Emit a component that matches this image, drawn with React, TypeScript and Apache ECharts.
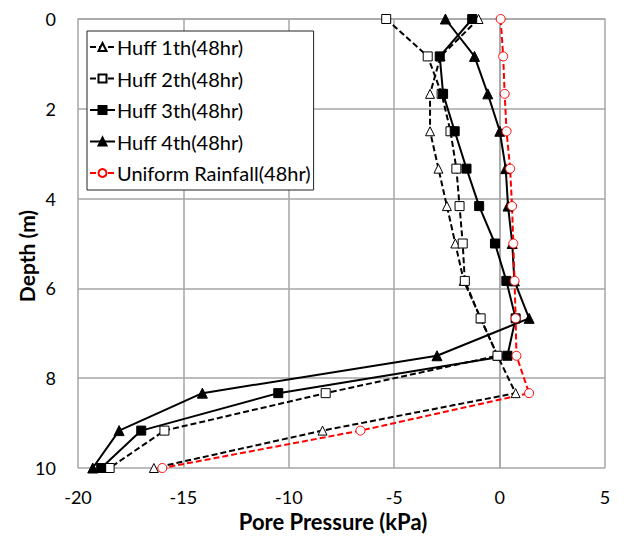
import React, { useEffect, useRef } from "react";
import * as echarts from "echarts";

const depths = [0, 0.833, 1.667, 2.5, 3.333, 4.167, 5, 5.833, 6.667, 7.5, 8.333, 9.167, 10];
const huff1 = [-1.0, -2.8, -3.3, -3.3, -2.9, -2.5, -2.1, -1.7, -0.9, -0.1, 0.76, -8.4, -16.4];
const huff2 = [-5.38, -3.41, -2.75, -2.33, -2.05, -1.9, -1.75, -1.65, -0.9, -0.1, -8.25, -15.9, -18.5];
const huff3 = [-1.3, -2.84, -2.68, -2.13, -1.57, -0.97, -0.22, 0.32, 0.76, 0.37, -10.5, -17.0, -18.9];
const huff4 = [-2.57, -1.19, -0.56, 0.01, 0.29, 0.4, 0.6, 0.7, 1.4, -2.97, -14.1, -18.05, -19.3];
const uniform = [0.05, 0.17, 0.24, 0.33, 0.5, 0.59, 0.65, 0.71, 0.76, 0.8, 1.4, -6.6, -16.0];
const seriesNames = [
  "Huff 1th(48hr)",
  "Huff 2th(48hr)",
  "Huff 3th(48hr)",
  "Huff 4th(48hr)",
  "Uniform Rainfall(48hr)",
];
const xTitle = "Pore Pressure (kPa)";
const yTitle = "Depth (m)";
const xTicks = { min: -20, max: 5, interval: 5 };
const yTicks = { min: 0, max: 10, interval: 2 };

const FONT = "Lato, 'Open Sans', sans-serif";

function pairs(vals: number[]) {
  return vals.map((v, i) => [v, depths[i]]);
}

export default function App() {
  const ref = useRef<HTMLDivElement>(null);
  useEffect(() => {
    if (!ref.current) return;
    const chart = echarts.init(ref.current, undefined, { renderer: "svg" });
    const mk = (
      name: string,
      vals: number[],
      symbol: string,
      size: number,
      fill: string,
      stroke: string,
      dashed: boolean
    ) => ({
      name,
      type: "line",
      data: pairs(vals),
      symbol,
      symbolSize: size,
      showSymbol: true,
      itemStyle: { color: fill, borderColor: stroke, borderWidth: 1 },
      lineStyle: {
        color: stroke,
        width: 2,
        type: dashed ? [6, 3] : "solid",
      },
      emphasis: { disabled: true },
    });
    chart.setOption({
      animation: false,
      textStyle: { fontFamily: FONT },
      grid: { left: 78, right: 19, top: 19, bottom: 68, containLabel: false },
      xAxis: {
        type: "value",
        min: xTicks.min,
        max: xTicks.max,
        interval: xTicks.interval,
        axisLine: { show: true, lineStyle: { color: "#a6a6a6", width: 1.5 } },
        axisTick: { show: false },
        axisLabel: { fontSize: 18, color: "#000", margin: 20, fontFamily: FONT },
        splitLine: { show: true, lineStyle: { color: "#a6a6a6", width: 1.5 } },
      },
      yAxis: {
        type: "value",
        inverse: true,
        min: yTicks.min,
        max: yTicks.max,
        interval: yTicks.interval,
        axisLine: { show: true, lineStyle: { color: "#a6a6a6", width: 1.5 } },
        axisTick: { show: false },
        axisLabel: { fontSize: 18, color: "#000", margin: 22, fontFamily: FONT },
        splitLine: { show: true, lineStyle: { color: "#a6a6a6", width: 1.5 } },
      },
      graphic: [
        {
          type: "text",
          x: 333,
          y: 521,
          style: {
            text: xTitle,
            fontSize: 22,
            fontWeight: "bold",
            fontFamily: FONT,
            fill: "#000",
            align: "center",
            verticalAlign: "middle",
          },
        },
        {
          type: "text",
          x: 26,
          y: 256,
          rotation: Math.PI / 2,
          style: {
            text: yTitle,
            fontSize: 21,
            fontWeight: "bold",
            fontFamily: FONT,
            fill: "#000",
            align: "center",
            verticalAlign: "middle",
          },
        },
      ],
      legend: {
        orient: "vertical",
        left: 87,
        top: 31,
        padding: [6, 3, 7, 2],
        itemWidth: 25,
        itemHeight: 10,
        itemGap: 11.5,
        backgroundColor: "#fff",
        borderColor: "#222",
        borderWidth: 1,
        borderRadius: 0,
        data: seriesNames,
        textStyle: {
          fontSize: 20,
          lineHeight: 20,
          color: "#000",
          fontFamily: FONT,
          padding: [0, 0, 0, -3],
        },
      },
      series: [
        mk(seriesNames[0], huff1, "triangle", 9, "#fff", "#000", true),
        mk(seriesNames[1], huff2, "rect", 9, "#fff", "#000", true),
        mk(seriesNames[2], huff3, "rect", 9, "#000", "#000", false),
        mk(seriesNames[3], huff4, "triangle", 10, "#000", "#000", false),
        mk(seriesNames[4], uniform, "circle", 9, "#fff", "#ff0000", true),
      ],
    });
    return () => chart.dispose();
  }, []);
  return <div ref={ref} style={{ width: 624, height: 536, position: "absolute", left: 0, top: 0 }} />;
}
